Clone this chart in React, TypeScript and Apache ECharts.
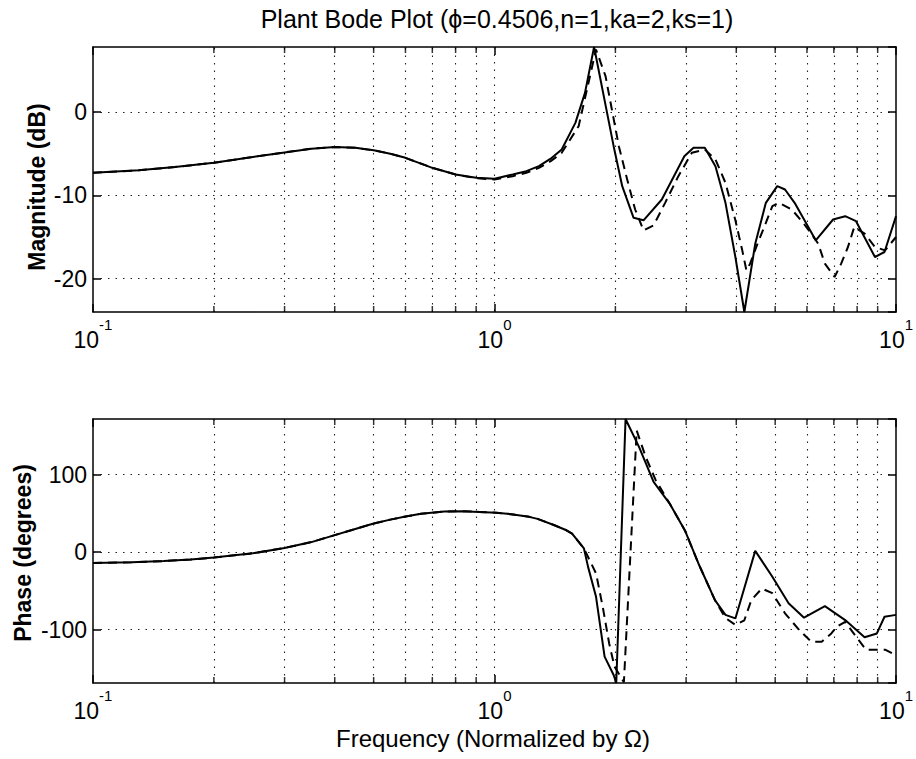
import React, { useEffect, useRef } from "react";
import * as echarts from "echarts";

const FONT = '"Liberation Sans", Arial, Helvetica, sans-serif';

const titleText = "Plant Bode Plot (ϕ=0.4506,n=1,ka=2,ks=1)";
const magAxisName = "Magnitude (dB)";
const phaseAxisName = "Phase (degrees)";
const freqAxisName = "Frequency (Normalized by Ω)";

const freqMin = 0.1;
const freqMax = 10;
const magMin = -24.0;
const magMax = 7.8;
const magStep = 10;
const phaseMin = -169;
const phaseMax = 172;
const phaseStep = 100;

// minor grid positions (2..9 of each decade)
const minorFreqs = [0.2, 0.3, 0.4, 0.5, 0.6, 0.7, 0.8, 0.9, 2, 3, 4, 5, 6, 7, 8, 9];

// Magnitude, solid
const magSolidFreq = [0.1, 0.13, 0.16, 0.2, 0.25, 0.3, 0.35, 0.4, 0.45, 0.5, 0.55, 0.6, 0.7, 0.8, 0.9, 1.0, 1.11, 1.2, 1.29, 1.38, 1.47, 1.59, 1.68, 1.77, 1.98, 2.08, 2.22, 2.35, 2.61, 2.97, 3.13, 3.34, 3.55, 3.76, 3.98, 4.19, 4.46, 4.74, 5.06, 5.29, 5.59, 6.31, 6.97, 7.47, 7.95, 8.86, 9.36, 10];
const magSolid = [-7.3, -7.0, -6.6, -6.1, -5.4, -4.85, -4.4, -4.2, -4.3, -4.6, -5.0, -5.5, -6.7, -7.5, -7.9, -8.0, -7.5, -7.1, -6.5, -5.6, -4.5, -1.3, 2.3, 7.8, -4.1, -8.9, -12.7, -13.0, -10.5, -5.3, -4.3, -4.3, -6.5, -10.9, -17.4, -24.0, -15.8, -10.9, -8.9, -9.3, -10.9, -15.4, -12.9, -12.5, -13.1, -17.4, -16.8, -12.5];

// Magnitude, dashed
const magDashedFreq = [0.1, 0.13, 0.16, 0.2, 0.25, 0.3, 0.35, 0.4, 0.45, 0.5, 0.55, 0.6, 0.7, 0.8, 0.9, 1.0, 1.11, 1.2, 1.29, 1.38, 1.47, 1.62, 1.79, 1.89, 1.96, 2.04, 2.14, 2.24, 2.35, 2.49, 2.66, 2.87, 3.1, 3.34, 3.55, 3.76, 3.98, 4.14, 4.24, 4.33, 4.52, 4.74, 4.92, 5.11, 5.5, 5.87, 6.15, 6.4, 6.65, 7.03, 7.3, 7.59, 7.87, 8.35, 8.86, 9.39, 10];
const magDashed = [-7.3, -7.0, -6.6, -6.1, -5.4, -4.85, -4.4, -4.2, -4.3, -4.6, -5.0, -5.5, -6.7, -7.5, -7.95, -8.1, -7.7, -7.3, -6.7, -5.9, -4.9, -1.7, 7.5, 4.3, 0.3, -4.1, -8.1, -11.7, -14.2, -13.6, -10.9, -7.7, -4.9, -4.5, -5.7, -8.5, -13.0, -16.6, -19.0, -18.2, -15.8, -13.3, -11.3, -10.9, -11.7, -13.3, -14.6, -15.8, -18.2, -19.8, -18.2, -16.2, -13.8, -14.6, -16.2, -16.6, -15.0];

// Phase, solid
const phaseSolidFreq = [0.1, 0.125, 0.15, 0.175, 0.2, 0.25, 0.3, 0.35, 0.4, 0.45, 0.5, 0.55, 0.6, 0.656, 0.75, 0.83, 0.915, 1.01, 1.1, 1.22, 1.28, 1.41, 1.5, 1.56, 1.67, 1.71, 1.79, 1.88, 1.98, 2.01, 2.12, 2.29, 2.49, 2.73, 2.98, 3.22, 3.54, 3.76, 3.98, 4.46, 4.92, 5.4, 5.9, 6.65, 7.47, 8.35, 8.96, 9.36, 10];
const phaseSolid = [-14, -13, -11.5, -9.5, -7, -1.5, 5.5, 13, 22, 30, 37, 42, 46, 49.5, 52.5, 53, 52, 51, 49, 45.6, 43, 34.8, 29, 24, 4.8, -19, -57.7, -135, -158.7, -169, 172, 136, 90.7, 62.8, 28, -14.6, -62, -81, -85.6, 1.7, -31.8, -66, -84.7, -69.7, -87.7, -110, -105, -83.4, -81];

// Phase, dashed
const phaseDashedFreq = [0.1, 0.125, 0.15, 0.175, 0.2, 0.25, 0.3, 0.35, 0.4, 0.45, 0.5, 0.55, 0.6, 0.656, 0.75, 0.83, 0.915, 1.01, 1.1, 1.22, 1.28, 1.41, 1.5, 1.56, 1.67, 1.79, 1.86, 1.93, 1.99, 2.05, 2.1, 2.26, 2.38, 2.52, 2.73, 2.98, 3.22, 3.54, 3.76, 3.98, 4.19, 4.36, 4.63, 4.92, 5.29, 5.74, 6.15, 6.53, 6.9, 7.13, 7.47, 7.95, 8.42, 9.39, 10];
const phaseDashed = [-14, -13, -11.5, -9.5, -7, -1.5, 5.5, 13, 22, 30, 37, 42, 46, 49.5, 52.5, 53, 52, 51, 49, 45.6, 43, 34.8, 29, 24, 4.8, -27.5, -70.6, -118, -148, -158.7, -168, 157, 123, 93, 62.8, 28, -14.6, -62, -85, -94, -88, -62, -47, -53, -79, -100.6, -115.7, -115.7, -105, -96, -90, -109, -126, -126, -133];

const zip = (xs: number[], ys: number[]) => xs.map((x, i) => [x, ys[i]]);

const gridLineStyle = { color: "#222", width: 1.1, type: [1.5, 6] as any };
const axisLineStyle = { color: "#000", width: 1.5 };

const xLabelFormatter = (v: number) => {
  const e = Math.round(Math.log10(v));
  return `{b|10}{s|${e}}`;
};

function makeX(gridIndex: number, position: "top" | "bottom") {
  const isBottom = position === "bottom";
  return {
    type: "log",
    logBase: 10,
    gridIndex,
    position,
    min: freqMin,
    max: freqMax,
    axisLine: { show: true, onZero: false, lineStyle: axisLineStyle },
    axisTick: { show: true, inside: true, length: 8, lineStyle: axisLineStyle },
    splitLine: isBottom
      ? { show: true, showMinLine: false, showMaxLine: false, lineStyle: gridLineStyle }
      : { show: false },
    axisLabel: isBottom
      ? {
          show: true,
          margin: 5,
          color: "#000",
          fontFamily: FONT,
          fontSize: 23,
          formatter: xLabelFormatter,
          hideOverlap: false,
          rich: {
            b: { fontSize: 23, fontFamily: FONT, color: "#000" },
            s: { fontSize: 15, fontFamily: FONT, color: "#000", padding: [0, 0, 30, 0] },
          },
        }
      : { show: false },
  };
}

function makeY(gridIndex: number, position: "left" | "right", min: number, max: number, step: number) {
  const isLeft = position === "left";
  return {
    type: "value",
    gridIndex,
    position,
    min,
    max,
    minInterval: step,
    maxInterval: step,
    splitNumber: 3,
    axisLine: { show: true, onZero: false, lineStyle: axisLineStyle },
    axisTick: { show: true, inside: true, length: 8, lineStyle: axisLineStyle },
    splitLine: isLeft
      ? { show: true, showMinLine: false, showMaxLine: false, lineStyle: gridLineStyle }
      : { show: false },
    axisLabel: isLeft
      ? {
          show: true,
          margin: 6,
          color: "#000",
          fontFamily: FONT,
          fontSize: 23,
          showMinLabel: false,
          showMaxLabel: false,
        }
      : { show: false },
  };
}

function curve(data: number[][], xi: number, yi: number, dashed: boolean) {
  return {
    type: "line",
    xAxisIndex: xi,
    yAxisIndex: yi,
    data,
    showSymbol: false,
    symbol: "none",
    smooth: false,
    clip: true,
    silent: true,
    lineStyle: { color: "#000", width: 2, type: dashed ? ([9, 6] as any) : "solid" },
    z: 5,
  };
}

function minorTicks(xi: number, yi: number, ymin: number, ymax: number) {
  return [
    {
      type: "scatter",
      xAxisIndex: xi,
      yAxisIndex: yi,
      data: minorFreqs.map((f) => [f, ymin]),
      symbol: "rect",
      symbolSize: [1.5, 6],
      symbolOffset: [0, -3],
      clip: false,
      silent: true,
      itemStyle: { color: "#000" },
      z: 6,
      markLine: {
        silent: true,
        symbol: ["none", "none"],
        label: { show: false },
        lineStyle: gridLineStyle,
        data: minorFreqs.map((f) => ({ xAxis: f })),
        z: 1,
      },
    },
    {
      type: "scatter",
      xAxisIndex: xi,
      yAxisIndex: yi,
      data: minorFreqs.map((f) => [f, ymax]),
      symbol: "rect",
      symbolSize: [1.5, 6],
      symbolOffset: [0, 3],
      clip: false,
      silent: true,
      itemStyle: { color: "#000" },
      z: 6,
    },
  ];
}

export default function App() {
  const ref = useRef<HTMLDivElement>(null);
  useEffect(() => {
    if (!ref.current) return;
    const chart = echarts.init(ref.current, undefined, { renderer: "svg" });
    const option: any = {
      animation: false,
      backgroundColor: "#fff",
      textStyle: { fontFamily: FONT },
      grid: [
        { left: 93, top: 47, width: 805, height: 265, containLabel: false },
        { left: 93, top: 419, width: 805, height: 264, containLabel: false },
      ],
      xAxis: [makeX(0, "bottom"), makeX(0, "top"), makeX(1, "bottom"), makeX(1, "top")],
      yAxis: [
        makeY(0, "left", magMin, magMax, magStep),
        makeY(0, "right", magMin, magMax, magStep),
        makeY(1, "left", phaseMin, phaseMax, phaseStep),
        makeY(1, "right", phaseMin, phaseMax, phaseStep),
      ],
      series: [
        ...minorTicks(0, 0, magMin, magMax),
        ...minorTicks(2, 2, phaseMin, phaseMax),
        curve(zip(magDashedFreq, magDashed), 0, 0, true),
        curve(zip(magSolidFreq, magSolid), 0, 0, false),
        curve(zip(phaseDashedFreq, phaseDashed), 2, 2, true),
        curve(zip(phaseSolidFreq, phaseSolid), 2, 2, false),
      ],
      graphic: [
        {
          type: "text",
          x: 497,
          y: 19,
          style: { text: titleText, fontSize: 25, fontFamily: FONT, fill: "#000", align: "center", verticalAlign: "middle" },
        },
        {
          type: "text",
          x: 37,
          y: 187,
          rotation: Math.PI / 2,
          style: { text: magAxisName, fontSize: 23, fontWeight: "bold", fontFamily: FONT, fill: "#000", align: "center", verticalAlign: "middle" },
        },
        {
          type: "text",
          x: 23,
          y: 553,
          rotation: Math.PI / 2,
          style: { text: phaseAxisName, fontSize: 23, fontWeight: "bold", fontFamily: FONT, fill: "#000", align: "center", verticalAlign: "middle" },
        },
        {
          type: "text",
          x: 493,
          y: 738,
          style: { text: freqAxisName, fontSize: 24, fontFamily: FONT, fill: "#000", align: "center", verticalAlign: "middle" },
        },
      ],
    };
    chart.setOption(option);
    return () => chart.dispose();
  }, []);
  return (
    <div
      ref={ref}
      style={{ position: "fixed", left: 0, top: 0, width: 916, height: 759, background: "#fff" }}
    />
  );
}
